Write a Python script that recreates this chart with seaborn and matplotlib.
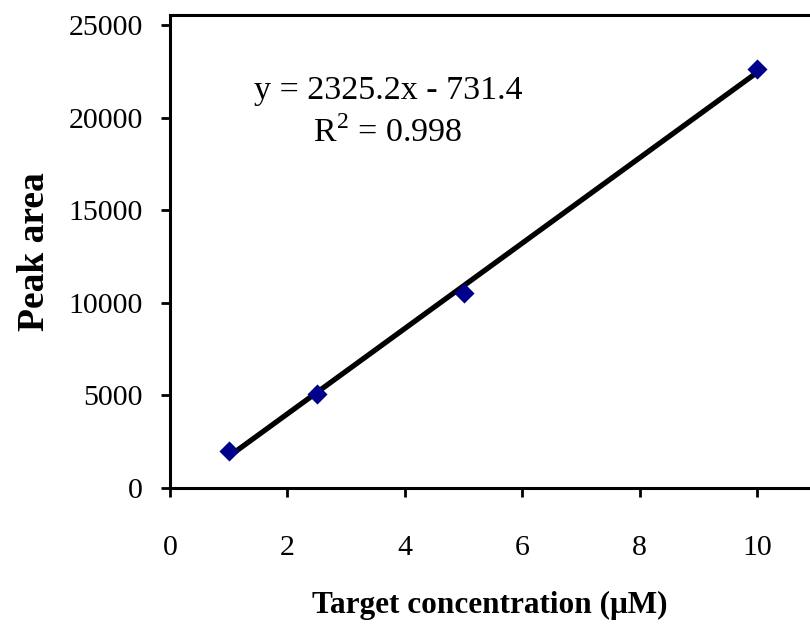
import numpy as np
import pandas as pd
import matplotlib
matplotlib.use("Agg")
import matplotlib.pyplot as plt
import seaborn as sns

conc = [1, 2.5, 5, 10]
peak_area = [2000, 5070, 10510, 22640]
x_ticks = [0, 2, 4, 6, 8, 10]
y_ticks = [0, 5000, 10000, 15000, 20000, 25000]
eq_text = "y = 2325.2x - 731.4"
r2_text = "R$^{2}$ = 0.998"

sns.set_style("white")
plt.rcParams['font.family'] = ['Liberation Serif', 'DejaVu Serif']
plt.rcParams['mathtext.fontset'] = 'custom'
plt.rcParams['mathtext.rm'] = 'Liberation Serif'
plt.rcParams['text.color'] = 'black'
plt.rcParams['axes.labelcolor'] = 'black'
plt.rcParams['xtick.color'] = 'black'
plt.rcParams['ytick.color'] = 'black'

df = pd.DataFrame({"conc": conc, "area": peak_area})

fig = plt.figure(figsize=(8.1, 6.24), dpi=100)
ax = fig.add_axes([170/810, 1-488/624, 1-170/810, (488-15)/624])

sns.regplot(data=df, x="conc", y="area", ci=None, ax=ax, marker="D",
            scatter_kws=dict(s=105, color="#00008B", zorder=3, linewidths=0, alpha=1),
            line_kws=dict(color="black", lw=3.8, zorder=2))

ax.set_xlim(0, 640/58.7)
ax.set_ylim(0, 25550)
ax.set_xticks(x_ticks)
ax.set_yticks(y_ticks)
ax.tick_params(axis='x', direction='out', length=6.5, width=2, pad=27, labelsize=21.5, bottom=True)
ax.tick_params(axis='y', direction='out', length=6.5, width=2, pad=13, labelsize=21.5, left=True)
for s in ["left", "bottom", "top"]:
    ax.spines[s].set_linewidth(2.2)
    ax.spines[s].set_color("black")
ax.spines["right"].set_visible(False)

ax.set_xlabel("Target concentration (μM)", fontsize=22.5, fontweight="bold", labelpad=22)
ax.set_ylabel("Peak area", fontsize=27, fontweight="bold", labelpad=12)

ax.text(3.71, 21456, eq_text, fontsize=24.5, ha="center", va="center")
ax.text(3.71, 19191, r2_text, fontsize=24.5, ha="center", va="center")

fig.savefig("out.png", dpi=100)
